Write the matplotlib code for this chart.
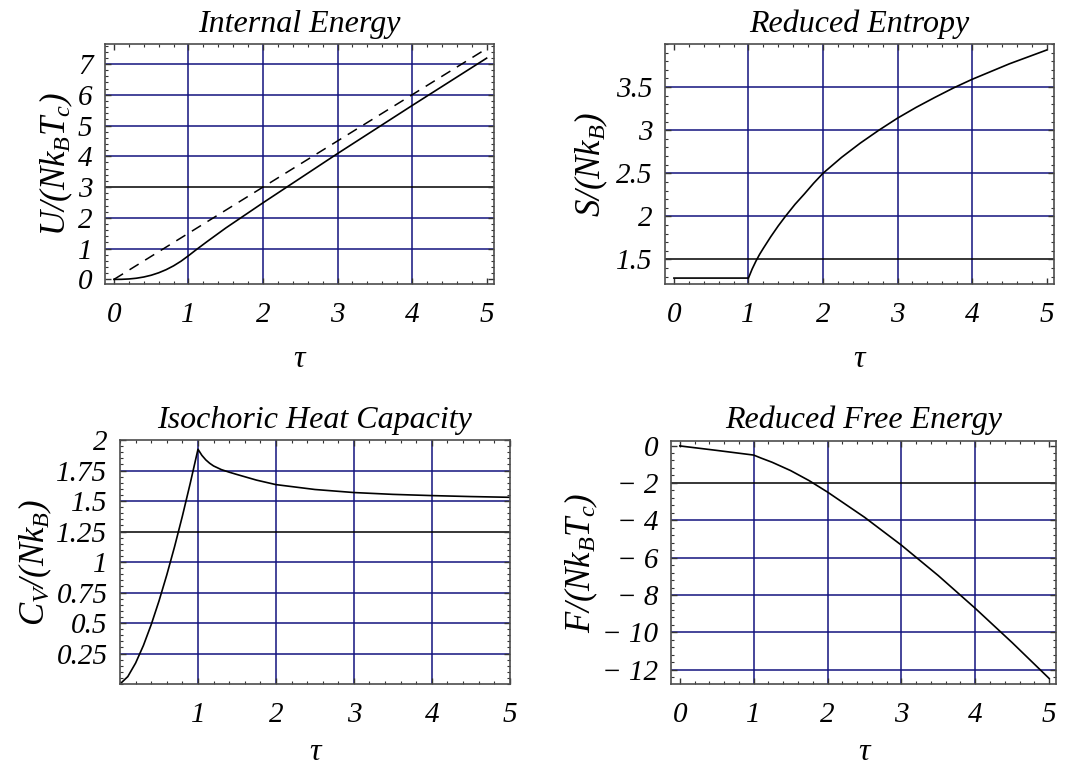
import matplotlib
matplotlib.use("Agg")
import matplotlib.pyplot as plt
from matplotlib.ticker import MultipleLocator

plt.rcParams['font.family'] = 'Liberation Serif'
plt.rcParams['font.style'] = 'italic'
plt.rcParams['mathtext.fontset'] = 'custom'
plt.rcParams['mathtext.it'] = 'Liberation Serif:italic'
plt.rcParams['mathtext.rm'] = 'Liberation Serif:italic'
plt.rcParams['mathtext.default'] = 'it'

# values
tau_U = [0, 0.1, 0.2, 0.3, 0.4, 0.5, 0.6, 0.7, 0.8, 0.9, 1.0, 1.1, 1.25, 1.5, 1.75,
         2.0, 2.5, 3.0, 3.5, 4.0, 4.5, 5.0]
U = [0, 0.0024, 0.014, 0.038, 0.078, 0.136, 0.215, 0.316, 0.441, 0.592, 0.770,
     0.958, 1.23, 1.67, 2.08, 2.49, 3.29, 4.09, 4.87, 5.65, 6.42, 7.19]
tau_classical = [0, 5]
U_classical = [0, 7.5]

tau_S = [0, 1.0, 1.05, 1.1, 1.15, 1.2, 1.3, 1.4, 1.5, 1.625, 1.75, 1.875, 2.0, 2.25,
         2.5, 2.75, 3.0, 3.25, 3.5, 3.75, 4.0, 4.5, 5.0]
S = [1.284, 1.284, 1.39, 1.48, 1.56, 1.63, 1.765, 1.89, 2.005, 2.14, 2.26, 2.385,
     2.50, 2.685, 2.85, 3.0, 3.14, 3.265, 3.38, 3.49, 3.59, 3.77, 3.93]

tau_C = [0, 0.1, 0.2, 0.3, 0.4, 0.5, 0.6, 0.7, 0.8, 0.9, 1.0, 1.05, 1.1, 1.15, 1.2,
         1.3, 1.4, 1.5, 1.75, 2.0, 2.5, 3.0, 3.5, 4.0, 4.5, 5.0]
Cv = [0, 0.061, 0.172, 0.316, 0.487, 0.681, 0.895, 1.127, 1.377, 1.644, 1.925,
      1.875, 1.838, 1.81, 1.788, 1.758, 1.737, 1.718, 1.672, 1.635, 1.595, 1.57,
      1.555, 1.545, 1.537, 1.531]

tau_F = [0, 0.5, 1.0, 1.1, 1.25, 1.5, 1.75, 2.0, 2.5, 3.0, 3.5, 4.0, 4.5, 5.0]
F = [-0.02, -0.26, -0.51, -0.67, -0.895, -1.34, -1.875, -2.49, -3.835, -5.33,
     -6.96, -8.71, -10.545, -12.46]

navy = '#14147f'
fs = 21


def style(ax, xgrid, ygrid, black_y, xmin, ymin, xpad):
    for s in ax.spines.values():
        s.set_color('#4d4d4d')
        s.set_linewidth(1.2)
    for g in xgrid:
        ax.axvline(g, color=navy, lw=1.1, zorder=0)
    for g in ygrid:
        ax.axhline(g, color='black' if g == black_y else navy, lw=1.1, zorder=0)
    ax.xaxis.set_minor_locator(MultipleLocator(xmin))
    ax.yaxis.set_minor_locator(MultipleLocator(ymin))
    ax.tick_params(which='both', direction='in', top=True, right=True,
                   color='#333333', labelsize=fs)
    ax.tick_params(which='major', length=4, width=1)
    ax.tick_params(which='minor', length=2.5, width=0.8)
    ax.tick_params(axis='x', pad=13)
    ax.tick_params(axis='y', pad=9)
    ax.set_xlabel('τ', fontsize=23, labelpad=xpad)


fig = plt.figure(figsize=(10.65, 7.67), dpi=100)

# Internal energy
ax1 = fig.add_axes([0.0986, 0.6297, 0.3653, 0.3129])
ax1.plot(tau_U, U, color='black', lw=1.2)
ax1.plot(tau_classical, U_classical, color='black', lw=1.1, dashes=(7, 5))
ax1.set_xlim(-0.12, 5.1)
ax1.set_ylim(-0.15, 7.65)
ax1.set_xticks([0, 1, 2, 3, 4, 5])
ax1.set_yticks([0, 1, 2, 3, 4, 5, 6, 7])
style(ax1, [1, 2, 3, 4], [1, 2, 3, 4, 5, 6, 7], 3, 0.2, 0.2, 12)
ax1.set_ylabel(r'$U/(Nk_BT_c)$', fontsize=25, labelpad=2)
ax1.set_title('Internal Energy', fontsize=23, pad=9)

# Entropy
ax2 = fig.add_axes([0.6244, 0.6297, 0.3653, 0.3129])
ax2.plot(tau_S, S, color='black', lw=1.2)
ax2.set_xlim(-0.12, 5.1)
ax2.set_ylim(1.215, 4.0)
ax2.set_xticks([0, 1, 2, 3, 4, 5])
ax2.set_yticks([1.5, 2, 2.5, 3, 3.5])
ax2.set_yticklabels(['1.5', '2', '2.5', '3', '3.5'])
style(ax2, [1, 2, 3, 4], [1.5, 2, 2.5, 3, 3.5], 1.5, 0.2, 0.1, 12)
ax2.set_ylabel(r'$S/(Nk_B)$', fontsize=25, labelpad=4)
ax2.set_title('Reduced Entropy', fontsize=23, pad=9)

# Heat capacity
ax3 = fig.add_axes([0.1127, 0.1082, 0.366, 0.318])
ax3.plot(tau_C, Cv, color='black', lw=1.2)
ax3.set_xlim(0, 5)
ax3.set_ylim(0, 2)
ax3.set_xticks([1, 2, 3, 4, 5])
ax3.set_yticks([0.25, 0.5, 0.75, 1, 1.25, 1.5, 1.75, 2])
ax3.set_yticklabels(['0.25', '0.5', '0.75', '1', '1.25', '1.5', '1.75', '2'])
style(ax3, [1, 2, 3, 4], [0.25, 0.5, 0.75, 1, 1.25, 1.5, 1.75], 1.25, 0.2, 0.05, 7)
ax3.set_ylabel(r'$C_V/(Nk_B)$', fontsize=25, labelpad=2)
ax3.set_title('Isochoric Heat Capacity', fontsize=23, pad=9)

# Free energy
ax4 = fig.add_axes([0.630, 0.1082, 0.362, 0.317])
ax4.plot(tau_F, F, color='black', lw=1.2)
ax4.set_xlim(-0.12, 5.1)
ax4.set_ylim(-12.76, 0.25)
ax4.set_xticks([0, 1, 2, 3, 4, 5])
ax4.set_yticks([0, -2, -4, -6, -8, -10, -12])
ax4.set_yticklabels(['0', '\u2212 2', '\u2212 4', '\u2212 6', '\u2212 8', '\u2212 10', '\u2212 12'])
style(ax4, [1, 2, 3, 4], [-2, -4, -6, -8, -10, -12], -2, 0.2, 0.4, 7)
ax4.set_ylabel(r'$F/(Nk_BT_c)$', fontsize=25, labelpad=2)
ax4.set_title('Reduced Free Energy', fontsize=23, pad=9)

fig.savefig('out.png', dpi=100)
